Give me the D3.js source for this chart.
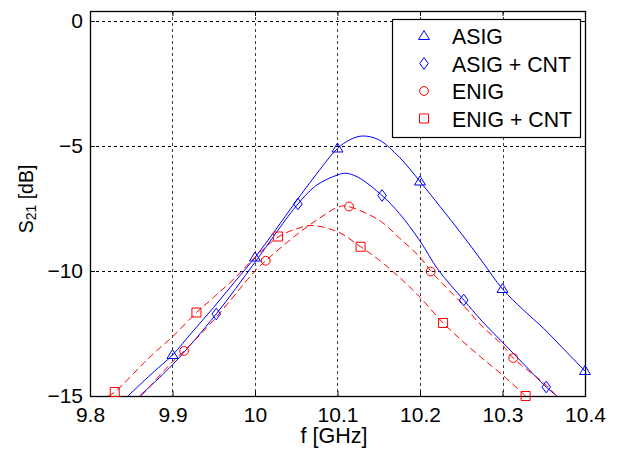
<!DOCTYPE html>
<html>
<head>
<meta charset="utf-8">
<script src="https://cdn.jsdelivr.net/npm/d3@7"></script>
<style>
  body { margin: 0; background: #fff; }
  text { font-family: "Liberation Sans", Arial, sans-serif; }
</style>
</head>
<body>
<div id="plot"></div>
<script>
// axis ticks
const xTicks = [9.8, 9.9, 10, 10.1, 10.2, 10.3, 10.4];
const yTicks = [0, -5, -10, -15];
const seriesNames = ["ASIG", "ASIG + CNT", "ENIG", "ENIG + CNT"];

// curves (f in GHz, S21 in dB)
const asigF = [9.846, 9.875, 9.9, 9.925, 9.95, 9.975, 10.0, 10.025, 10.05, 10.075, 10.1, 10.115, 10.13, 10.15, 10.175, 10.2, 10.225, 10.25, 10.275, 10.3, 10.325, 10.35, 10.375, 10.4];
const asigS = [-15, -14.1, -13.36, -12.4, -11.45, -10.45, -9.46, -8.35, -7.2, -6.1, -5.1, -4.75, -4.6, -4.75, -5.45, -6.42, -7.45, -8.5, -9.6, -10.72, -11.55, -12.3, -13.15, -14.0];

const asigCntF = [9.86, 9.9, 9.953, 10.0, 10.052, 10.075, 10.1, 10.11, 10.125, 10.154, 10.175, 10.2, 10.222, 10.253, 10.275, 10.3, 10.325, 10.353, 10.366];
const asigCntS = [-15, -13.75, -11.72, -9.65, -7.32, -6.56, -6.16, -6.09, -6.25, -6.98, -7.7, -8.8, -9.95, -11.16, -12.0, -12.85, -13.7, -14.64, -15];

const enigF = [9.862, 9.9, 9.914, 9.95, 10.0, 10.013, 10.05, 10.075, 10.1, 10.11, 10.15, 10.175, 10.2, 10.213, 10.25, 10.275, 10.3, 10.313, 10.35, 10.366];
const enigS = [-15, -13.63, -13.2, -11.96, -10.0, -9.59, -8.56, -7.96, -7.45, -7.4, -7.96, -8.68, -9.45, -10.0, -11.28, -12.2, -12.96, -13.48, -14.48, -15];

const enigCntF = [9.822, 9.83, 9.875, 9.9, 9.929, 9.95, 9.975, 10.0, 10.029, 10.05, 10.068, 10.1, 10.128, 10.15, 10.175, 10.2, 10.228, 10.25, 10.275, 10.3, 10.328];
const enigCntS = [-15, -14.84, -13.36, -12.63, -11.66, -11.05, -10.3, -9.45, -8.62, -8.32, -8.18, -8.43, -9.03, -9.55, -10.25, -11.05, -12.08, -12.76, -13.48, -14.16, -15];

// marker positions
const asigMarkF = [9.9, 10.0, 10.1, 10.2, 10.3, 10.4];
const asigMarkS = [-13.36, -9.46, -5.1, -6.42, -10.72, -14.0];
const asigCntMarkF = [9.953, 10.052, 10.154, 10.253, 10.353];
const asigCntMarkS = [-11.72, -7.32, -6.98, -11.16, -14.64];
const enigMarkF = [9.914, 10.013, 10.114, 10.213, 10.313];
const enigMarkS = [-13.2, -9.59, -7.42, -10.02, -13.48];
const enigCntMarkF = [9.83, 9.929, 10.028, 10.128, 10.228, 10.328];
const enigCntMarkS = [-14.84, -11.66, -8.62, -9.03, -12.08, -15.0];

const width = 617, height = 453;
const mLeft = 90, mRight = 585, mTop = 11, mBottom = 396;

const x = d3.scaleLinear().domain([9.8, 10.4]).range([mLeft, mRight]);
const y = d3.scaleLinear().domain([-15, 0.4]).range([mBottom, mTop]);

const svg = d3.select("#plot").append("svg")
  .attr("width", width)
  .attr("height", height);

svg.append("defs").append("clipPath").attr("id", "clip")
  .append("rect")
  .attr("x", mLeft).attr("y", mTop)
  .attr("width", mRight - mLeft).attr("height", mBottom - mTop);

// grid
const grid = svg.append("g");
grid.selectAll(".gx").data(xTicks.slice(1, -1)).join("line")
  .attr("x1", d => Math.round(x(d)) + 0.5).attr("x2", d => Math.round(x(d)) + 0.5)
  .attr("y1", mTop).attr("y2", mBottom)
  .attr("stroke", "#000").attr("stroke-width", 1).attr("stroke-dasharray", "3,3")
  .attr("stroke-opacity", 0.75);
grid.selectAll(".gy").data(yTicks.slice(0, -1)).join("line")
  .attr("y1", d => Math.round(y(d)) + 0.5).attr("y2", d => Math.round(y(d)) + 0.5)
  .attr("x1", mLeft).attr("x2", mRight)
  .attr("stroke", "#000").attr("stroke-width", 1).attr("stroke-dasharray", "3,3");

// axes (inside ticks, matlab style)
svg.append("g").attr("transform", `translate(0,${mBottom})`)
  .call(d3.axisBottom(x).tickValues(xTicks).tickSizeInner(-5).tickSizeOuter(0).tickPadding(11)
    .tickFormat(d => d3.format("")(+d.toFixed(1))))
  .call(g => g.select(".domain").remove())
  .call(g => g.selectAll("text").attr("font-size", 21).attr("fill", "#000")
    .attr("font-family", "Liberation Sans, Arial, sans-serif"));
svg.append("g").attr("transform", `translate(0,${mTop})`)
  .call(d3.axisTop(x).tickValues(xTicks).tickSizeInner(-5).tickSizeOuter(0).tickFormat(""))
  .call(g => g.select(".domain").remove());
svg.append("g").attr("transform", `translate(${mLeft},0)`)
  .call(d3.axisLeft(y).tickValues(yTicks).tickSizeInner(-5).tickSizeOuter(0).tickPadding(7))
  .call(g => g.select(".domain").remove())
  .call(g => g.selectAll("text").attr("font-size", 21).attr("fill", "#000")
    .attr("font-family", "Liberation Sans, Arial, sans-serif"));
svg.append("g").attr("transform", `translate(${mRight},0)`)
  .call(d3.axisRight(y).tickValues(yTicks).tickSizeInner(-5).tickSizeOuter(0).tickFormat(""))
  .call(g => g.select(".domain").remove());

svg.append("rect")
  .attr("x", mLeft + 0.5).attr("y", mTop + 0.5)
  .attr("width", mRight - mLeft).attr("height", mBottom - mTop)
  .attr("fill", "none").attr("stroke", "#000").attr("stroke-width", 1.3);

// curves
const series = [
  { f: asigF, s: asigS, mf: asigMarkF, ms: asigMarkS, color: "#0000ff", dash: null, mark: "tri" },
  { f: asigCntF, s: asigCntS, mf: asigCntMarkF, ms: asigCntMarkS, color: "#0000ff", dash: null, mark: "dia" },
  { f: enigF, s: enigS, mf: enigMarkF, ms: enigMarkS, color: "#ff0000", dash: "7,4", mark: "cir" },
  { f: enigCntF, s: enigCntS, mf: enigCntMarkF, ms: enigCntMarkS, color: "#ff0000", dash: "7,4", mark: "sq" }
];

const line = d3.line().x(d => x(d[0])).y(d => y(d[1])).curve(d3.curveCatmullRom.alpha(0.5));

const shapes = {
  tri: "M0,-5.5L5.5,3.5L-5.5,3.5Z",
  dia: "M0,-5.8L4.3,0L0,5.8L-4.3,0Z",
  cir: d3.symbol().type(d3.symbolCircle).size(Math.PI * 4.4 * 4.4)(),
  sq: "M-4.5,-4.5H4.5V4.5H-4.5Z"
};

const curves = svg.append("g").attr("clip-path", "url(#clip)");
series.forEach(sr => {
  curves.append("path")
    .datum(d3.zip(sr.f, sr.s))
    .attr("d", line)
    .attr("fill", "none")
    .attr("stroke", sr.color)
    .attr("stroke-width", 1)
    .attr("stroke-dasharray", sr.dash);
});
series.forEach(sr => {
  svg.append("g").selectAll("path").data(d3.zip(sr.mf, sr.ms)).join("path")
    .attr("transform", d => `translate(${x(d[0])},${y(d[1])})`)
    .attr("d", shapes[sr.mark])
    .attr("fill", "none")
    .attr("stroke", sr.color)
    .attr("stroke-width", 1);
});

// axis labels
svg.append("text")
  .attr("x", 334).attr("y", 443)
  .attr("text-anchor", "middle").attr("font-size", 21.5)
  .text("f [GHz]");

const yl = svg.append("text")
  .attr("transform", "translate(33,199) rotate(-90)")
  .attr("text-anchor", "middle").attr("font-size", 19.5);
yl.append("tspan").text("S");
yl.append("tspan").attr("font-size", 14).attr("dy", 3).text("21");
yl.append("tspan").attr("dy", -3).text(" [dB]");

// legend
const leg = svg.append("g");
leg.append("rect")
  .attr("x", 392.5).attr("y", 19.5).attr("width", 188).attr("height", 118)
  .attr("fill", "#fff").attr("stroke", "#000").attr("stroke-width", 1.2);
seriesNames.forEach((name, i) => {
  const cy = 36 + i * 27.5;
  leg.append("path")
    .attr("transform", `translate(424,${cy})`)
    .attr("d", shapes[series[i].mark])
    .attr("fill", "none").attr("stroke", series[i].color).attr("stroke-width", 1);
  leg.append("text")
    .attr("x", 452).attr("y", cy + 8)
    .attr("font-size", 21.3)
    .text(name);
});
</script>
</body>
</html>
